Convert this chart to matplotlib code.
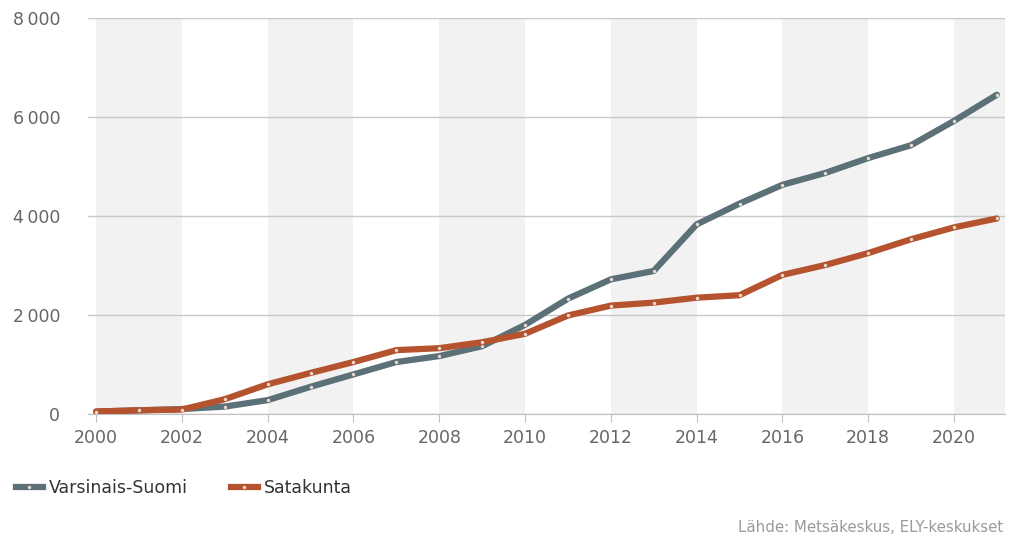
import numpy as np
import matplotlib.pyplot as plt
from matplotlib.ticker import FuncFormatter
from matplotlib.lines import Line2D

# data
years = list(range(2000, 2022))
varsinais_suomi = [50, 75, 100, 150, 280, 550, 800, 1050, 1170, 1370, 1800, 2330,
                   2720, 2890, 3830, 4250, 4630, 4870, 5170, 5430, 5920, 6450]
satakunta = [50, 75, 90, 300, 600, 830, 1050, 1290, 1330, 1450, 1620, 1990,
             2190, 2250, 2350, 2400, 2810, 3010, 3250, 3530, 3770, 3950]
series_names = ['Varsinais-Suomi', 'Satakunta']
source_text = 'Lähde: Metsäkeskus, ELY-keskukset'

gray = '#5c7078'
orange = '#b4532e'
text_col = '#666666'

plt.rcParams['font.family'] = ['DejaVu Sans']

fig = plt.figure(figsize=(10.09, 5.36), dpi=100)
ax = fig.add_axes([88 / 1009, 1 - 414 / 536, (1005 - 88) / 1009, (414 - 18) / 536])

# alternating background bands every two years
for start in range(2000, 2022, 4):
    ax.axvspan(start, start + 2, color='#f2f2f2', lw=0, zorder=0)

for vals, col in [(varsinais_suomi, gray), (satakunta, orange)]:
    ax.plot(years, vals, color=col, lw=4.5, solid_capstyle='round', zorder=3,
            marker='o', markersize=2.5, markerfacecolor='#e8d8cf', markeredgewidth=0)

ax.set_xlim(1999.81, 2021.19)
ax.set_ylim(0, 8000)
ax.set_yticks(range(0, 8001, 2000))
ax.yaxis.set_major_formatter(FuncFormatter(lambda v, p: f'{int(v):,}'.replace(',', '\u2009')))
ax.set_xticks(range(2000, 2021, 2))

ax.grid(axis='y', color='#c8c8c8', lw=1, zorder=1)
for s in ['top', 'right', 'left']:
    ax.spines[s].set_visible(False)
ax.spines['bottom'].set_color('#c0c0c0')
ax.tick_params(axis='y', length=0, pad=20, labelsize=12.5, labelcolor=text_col)
ax.tick_params(axis='x', length=6, color='#c0c0c0', pad=5, labelsize=12.5, labelcolor=text_col)

handles = [Line2D([0], [0], color=gray, lw=4.5, marker='o', markersize=2.5,
                  markerfacecolor='#e8d8cf', markeredgewidth=0),
           Line2D([0], [0], color=orange, lw=4.5, marker='o', markersize=2.5,
                  markerfacecolor='#e8d8cf', markeredgewidth=0)]
fig.legend(handles, series_names, loc='center left', bbox_to_anchor=(0.0, 1 - 488 / 536),
           ncol=2, frameon=False, fontsize=12.5, handlelength=1.55, handletextpad=0.35,
           columnspacing=2.5, labelcolor='#333333')

fig.text(1003 / 1009, 1 - 527 / 536, source_text, ha='right', va='center',
         fontsize=10.8, color='#9a9a9a')

fig.savefig('out.png', dpi=100)
